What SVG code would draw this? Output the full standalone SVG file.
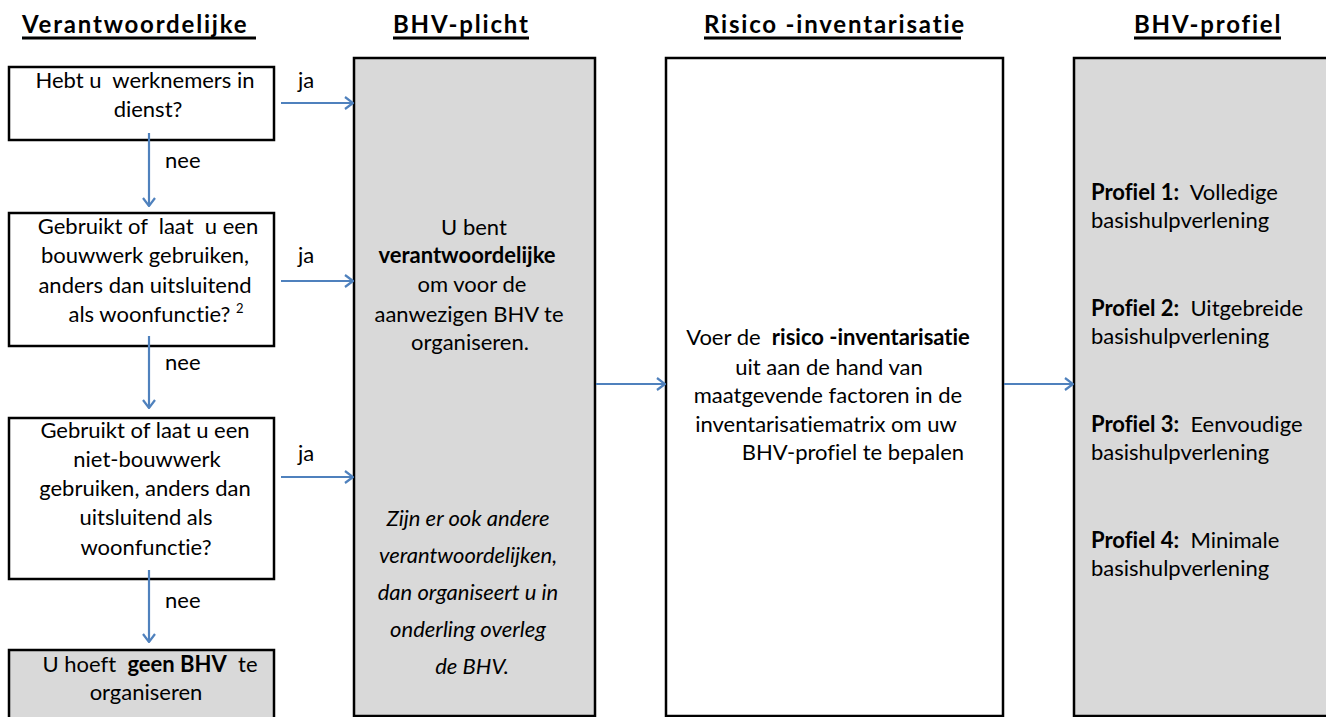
<svg xmlns="http://www.w3.org/2000/svg" width="1326" height="717" viewBox="0 0 1326 717">
<defs>
<style>
text{font-family:Lato,"Open Sans","Liberation Sans",sans-serif;font-size:22px;fill:#000;font-variant-ligatures:none;font-feature-settings:"liga" 0,"clig" 0}
.h{font-weight:bold;font-size:24px;letter-spacing:1.8px}
.b{font-weight:bold}
.i{font-style:italic}
.c{text-anchor:middle}
.box{stroke:#000;stroke-width:2.5}
.w{fill:#fff}
.g{fill:#d9d9d9}
.ul{stroke:#000;stroke-width:3}
.conn line{stroke:#4f81bd;stroke-width:2.2;marker-end:url(#arr)}
</style>
<marker id="arr" viewBox="0 0 10 14" refX="9" refY="7" markerWidth="10" markerHeight="14" markerUnits="userSpaceOnUse" orient="auto">
<path d="M1,1 L9,7 L1,13" fill="none" stroke="#4f81bd" stroke-width="2.2"/>
</marker>
</defs>
<rect width="1326" height="717" fill="#fff"/>
<g id="headers">
<text class="h" x="22" y="33">Verantwoordelijke</text>
<line class="ul" x1="22" y1="38" x2="256" y2="38"/>
<text class="h" x="393" y="33">BHV-plicht</text>
<line class="ul" x1="393" y1="38" x2="529" y2="38"/>
<text class="h" x="704" y="33">Risico -inventarisatie</text>
<line class="ul" x1="704" y1="38" x2="961" y2="38"/>
<text class="h" x="1134" y="33">BHV-profiel</text>
<line class="ul" x1="1134" y1="38" x2="1281" y2="38"/>
</g>
<g id="q1">
<rect class="box w" x="9" y="67" width="265" height="73"/>
<text class="c" x="145" y="88">Hebt u&#160; werknemers in</text>
<text class="c" x="148" y="117">dienst?</text>
</g>
<g id="q2">
<rect class="box w" x="9" y="213" width="265" height="133"/>
<text class="c" x="148" y="234">Gebruikt of&#160; laat&#160; u een</text>
<text class="c" x="145" y="263">bouwwerk gebruiken,</text>
<text class="c" x="145" y="293">anders dan uitsluitend</text>
<text class="c" x="156" y="322">als woonfunctie? <tspan font-size="13" dy="-9">2</tspan></text>
</g>
<g id="q3">
<rect class="box w" x="9" y="418" width="265" height="161"/>
<text class="c" x="145" y="438">Gebruikt of laat u een</text>
<text class="c" x="147" y="467">niet-bouwwerk</text>
<text class="c" x="145" y="496">gebruiken, anders dan</text>
<text class="c" x="146" y="525">uitsluitend als</text>
<text class="c" x="146" y="555">woonfunctie?</text>
</g>
<g id="geen">
<rect class="box g" x="9" y="650" width="265" height="80"/>
<text class="c" x="150" y="672">U hoeft&#160; <tspan class="b">geen BHV</tspan>&#160; te</text>
<text class="c" x="146" y="700">organiseren</text>
</g>
<g id="plicht">
<rect class="box g" x="354" y="58" width="241" height="658"/>
<text class="c" x="474" y="235">U bent</text>
<text class="c b" x="467" y="263">verantwoordelijke</text>
<text class="c" x="472" y="292">om voor de</text>
<text class="c" x="469" y="322">aanwezigen BHV te</text>
<text class="c" x="470" y="350">organiseren.</text>
<text class="c i" x="468" y="526">Zijn er ook andere</text>
<text class="c i" x="468" y="563">verantwoordelijken,</text>
<text class="c i" x="468" y="600">dan organiseert u in</text>
<text class="c i" x="468" y="637">onderling overleg</text>
<text class="c i" x="472" y="674">de BHV.</text>
</g>
<g id="risico">
<rect class="box w" x="666" y="58" width="337" height="658"/>
<text class="c" x="828" y="345">Voer de&#160; <tspan class="b">risico -inventarisatie</tspan></text>
<text class="c" x="829" y="375">uit aan de hand van</text>
<text class="c" x="828" y="403">maatgevende factoren in de</text>
<text class="c" x="826" y="432">inventarisatiematrix om uw</text>
<text class="c" x="853" y="460">BHV-profiel te bepalen</text>
</g>
<g id="profiel">
<rect class="box g" x="1074" y="58" width="300" height="658"/>
<text x="1091" y="200"><tspan class="b">Profiel 1:</tspan>&#160; Volledige</text>
<text x="1091" y="228">basishulpverlening</text>
<text x="1091" y="316"><tspan class="b">Profiel 2:</tspan>&#160; Uitgebreide</text>
<text x="1091" y="344">basishulpverlening</text>
<text x="1091" y="432"><tspan class="b">Profiel 3:</tspan>&#160; Eenvoudige</text>
<text x="1091" y="460">basishulpverlening</text>
<text x="1091" y="548"><tspan class="b">Profiel 4:</tspan>&#160; Minimale</text>
<text x="1091" y="576">basishulpverlening</text>
</g>
<g id="connectors" class="conn">
<line x1="281" y1="103" x2="353" y2="103"/>
<line x1="281" y1="281" x2="353" y2="281"/>
<line x1="281" y1="477" x2="353" y2="477"/>
<line x1="149" y1="133" x2="149" y2="206"/>
<line x1="149" y1="336" x2="149" y2="408"/>
<line x1="149" y1="570" x2="149" y2="642"/>
<line x1="596" y1="384" x2="665" y2="384"/>
<line x1="1004" y1="384" x2="1073" y2="384"/>
</g>
<g id="labels">
<text x="298" y="88">ja</text>
<text x="298" y="263">ja</text>
<text x="298" y="461">ja</text>
<text x="165" y="168">nee</text>
<text x="165" y="370">nee</text>
<text x="165" y="608">nee</text>
</g>
</svg>
